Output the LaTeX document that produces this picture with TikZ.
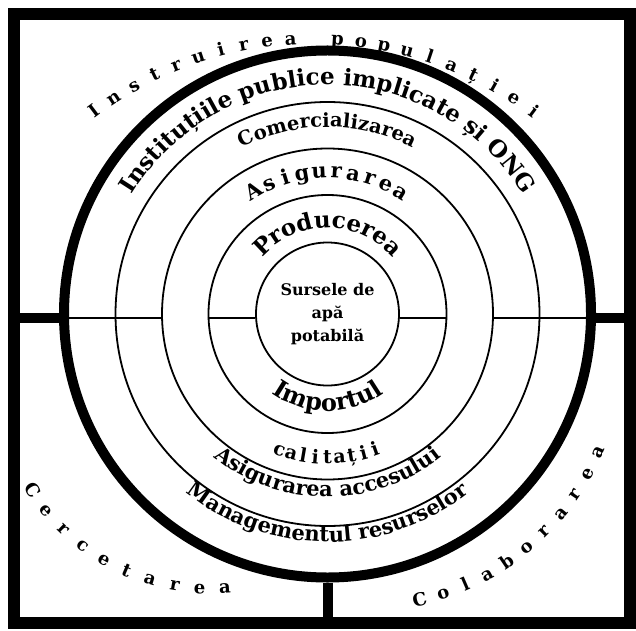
\documentclass[tikz,border=0pt]{standalone}
\usepackage{fontspec}
\setmainfont{DejaVu Serif}
\usetikzlibrary{decorations.text}
\newcommand\arcfont[1]{\bfseries\fontsize{#1}{#1}\selectfont}
\begin{document}
\begin{tikzpicture}[x=1pt,y=1pt,
ring/.style={circle,draw,inner sep=0pt,line width=1.8pt},
split/.style={line width=1.3pt},
bar/.style={line width=10pt},
letter/.style={anchor=base,inner sep=0pt,font=\arcfont{#1}},
curved/.style={decorate,decoration={text along path,text align=center,text={#1}}}]
\useasboundingbox (0,0) rectangle (636,630);
\coordinate (c) at (327.5,316);
\coordinate (h) at (0,312);
\coordinate (arcI) at (314,227);
\coordinate (arcC) at (212,256);
\coordinate (arcK) at (363,280);
\node[draw,line width=12pt,inner sep=0pt,outer sep=0pt,minimum width=616pt,minimum height=609pt] (frame) at (322,311.5) {};
\node[ring,minimum size=143pt,align=center,font=\bfseries\fontsize{16}{23}\selectfont] (src) at (c) {Sursele de\\apă\\potabilă};
\node[ring,minimum size=238pt] (prod) at (c) {};
\node[ring,minimum size=331pt] (asig) at (c) {};
\node[ring,minimum size=424pt] (com) at (c) {};
\node[ring,line width=10pt,minimum size=527pt] (inst) at (c) {};
\draw[bar] (frame.west |- h) -- (inst.west |- h);
\draw[bar] (inst.east |- h) -- (frame.east |- h);
\draw[bar] (inst.south) -- (inst.south |- frame.south);
\draw[split] (inst.west |- h) -- (asig.west |- h);
\draw[split] (prod.west |- h) -- (src.west |- h);
\draw[split] (src.east |- h) -- (prod.east |- h);
\draw[split] (asig.east |- h) -- (inst.east |- h);
\foreach \ch [count=\i from 0] in {I,n,s,t,r,u,i,r,e,a}
  \node[letter=18,rotate=37-3.7*\i] (pop\i) at ([shift={(127-3.7*\i:359)}]arcI) {\ch};
\foreach \ch [count=\i from 11] in {p,o,p,u,l,a,ț,i,e,i}
  \node[letter=18,rotate=37-3.7*\i] (pop\i) at ([shift={(127-3.7*\i:359)}]arcI) {\ch};
\path[curved={|\arcfont{23}|Instituțiile publice implicate și ONG}] ([shift={(175:229)}]c) arc[start angle=175,end angle=5,radius=229];
\path[curved={|\arcfont{19.5}|Comercializarea}] ([shift={(175:187)}]c) arc[start angle=175,end angle=5,radius=187];
\foreach \ch [count=\i from 0] in {A,s,i,g,u,r,a,r,e,a}
  \node[letter=21,rotate=31-6.9*\i] (asg\i) at ([shift={(121-6.9*\i:136)}]c) {\ch};
\path[curved={|\arcfont{23}|Producerea}] ([shift={(175:86)}]c) arc[start angle=175,end angle=5,radius=86];
\path[curved={|\arcfont{24}|Importul}] ([shift={(185:97)}]c) arc[start angle=185,end angle=355,radius=97];
\foreach \ch [count=\i from 0] in {c,a,l,i,t,a,ț,i,i}
  \node[letter=19,rotate=340.6+4.84*\i] (cal\i) at ([shift={(250.6+4.84*\i:150)}]c) {\ch};
\path[curved={|\arcfont{21}|Asigurarea accesului}] ([shift={(185:183)}]c) arc[start angle=185,end angle=355,radius=183];
\path[curved={|\arcfont{21}|Managementul resurselor}] ([shift={(185:228)}]c) arc[start angle=185,end angle=355,radius=228];
\foreach \ch [count=\i from 0] in {C,e,r,c,e,t,a,r,e,a}
  \node[letter=18,rotate=302.8+6.74*\i] (cer\i) at ([shift={(212.8+6.74*\i:220)}]arcC) {\ch};
\foreach \ch [count=\i from 0] in {C,o,l,a,b,o,r,a,r,e,a}
  \node[letter=18,rotate=12.8+5.37*\i] (col\i) at ([shift={(282.8+5.37*\i:262)}]arcK) {\ch};
\end{tikzpicture}
\end{document}
